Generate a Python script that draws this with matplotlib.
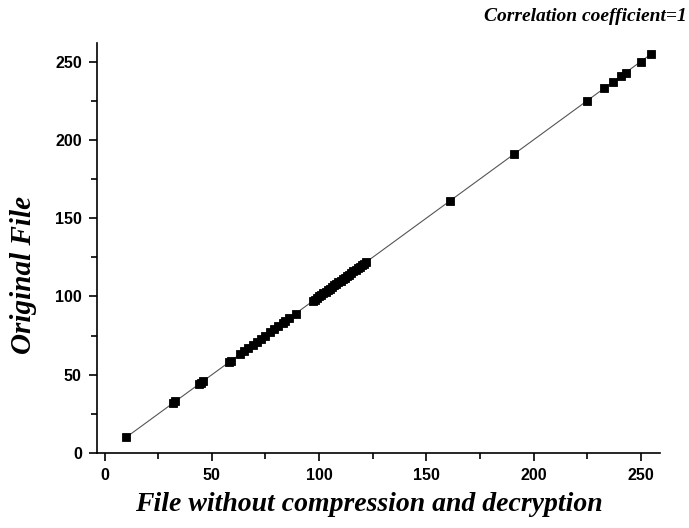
import matplotlib.pyplot as plt

# pixel values (same on both axes, r = 1)
without_compression = [10, 32, 33, 44, 45, 46, 58, 59, 63, 65, 67, 69, 71, 73, 75,
                       77, 79, 81, 83, 84, 86, 89, 97, 98, 99, 100, 101, 102, 103,
                       104, 105, 106, 107, 108, 109, 110, 111, 112, 113, 114, 115,
                       116, 117, 118, 119, 120, 121, 122, 161, 191, 225, 233, 237,
                       241, 243, 250, 255]
original = list(without_compression)

xticks = [0, 50, 100, 150, 200, 250]
yticks = [0, 50, 100, 150, 200, 250]

fig = plt.figure(figsize=(6.89, 5.28), dpi=100)
ax = fig.add_axes([0.141, 0.142, 0.817, 0.777])

ax.plot(without_compression, original, color='#555555', linewidth=0.8,
        marker='s', markersize=5.8, markeredgewidth=0.6,
        markerfacecolor='black', markeredgecolor='black')

ax.set_xlim(-3.5, 259)
ax.set_ylim(0, 262)
ax.set_xticks(xticks)
ax.set_yticks(yticks)
ax.set_xticks(range(25, 260, 50), minor=True)
ax.set_yticks(range(25, 260, 50), minor=True)

for s in ['top', 'right']:
    ax.spines[s].set_visible(False)
for s in ['left', 'bottom']:
    ax.spines[s].set_linewidth(1.2)

ax.tick_params(which='major', direction='out', length=6, width=1.2, pad=5)
ax.tick_params(which='minor', direction='out', length=4, width=1.2)
for lab in ax.get_xticklabels() + ax.get_yticklabels():
    lab.set_fontfamily('Liberation Sans')
    lab.set_fontweight('bold')
    lab.set_fontsize(11.5)

ax.set_xlabel('File without compression and decryption', family='Liberation Serif',
              fontsize=20, fontweight='bold', style='italic')
ax.xaxis.set_label_coords(0.482, -0.095)
ax.set_ylabel('Original File', family='Liberation Serif',
              fontsize=21, fontweight='bold', style='italic')
ax.yaxis.set_label_coords(-0.106, 0.434)

fig.text(0.997, 0.968, 'Correlation coefficient=1', family='Liberation Serif',
         fontsize=14, fontweight='bold', style='italic', ha='right', va='center')

plt.savefig('out.png', dpi=100)
